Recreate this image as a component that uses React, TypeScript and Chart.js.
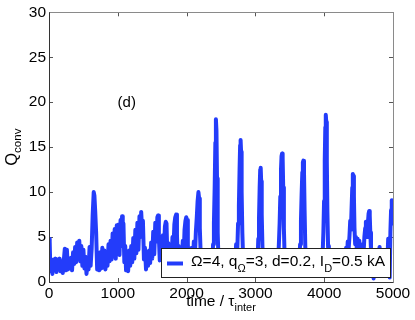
import React, { useEffect, useRef } from "react";
import { Chart, registerables } from "chart.js";

Chart.register(...registerables);

const FONT = '"Liberation Sans", Arial, Helvetica, sans-serif';
const LINE_COLOR = "rgb(35,60,250)";

const X_MIN = 0;
const X_MAX = 5000;
const Y_MIN = 0;
const Y_MAX = 30;
const X_TICK_STEP = 1000;
const Y_TICK_STEP = 5;

const LEGEND_PARTS: [string, boolean][] = [
  ["Ω=4, q", false],
  ["Ω", true],
  ["=3, d=0.2, I", false],
  ["D", true],
  ["=0.5 kA", false],
];
const Y_TITLE: [string, boolean][] = [
  ["Q", false],
  ["conv", true],
];
const X_TITLE: [string, boolean][] = [
  ["time / τ", false],
  ["inter", true],
];
const PANEL_LABEL = "(d)";
const PANEL_POS = { x: 1130, y: 19.9 };

// time / Q_conv samples
const seg1: [number, number][] = [
  [0, 4.8], [10, 4.5], [20, 1.2], [35, 2.4], [50, 0.9], [65, 2.5], [80, 1.3], [95, 2.6],
  [110, 1.1], [125, 2.5], [140, 1.4], [155, 2.6], [170, 1.2], [185, 2.3], [200, 1.0],
  [215, 2.4], [230, 3.7], [245, 1.3], [260, 3.6], [275, 1.4], [290, 2.6], [305, 1.5],
  [320, 2.7], [335, 1.3], [350, 3.3], [365, 2.0], [380, 3.9], [395, 2.2], [410, 4.4],
  [425, 2.8], [440, 4.6], [455, 2.3], [470, 4.0], [485, 1.8], [500, 3.6], [515, 1.5],
  [530, 2.8], [545, 0.9], [560, 2.3], [575, 1.4], [590, 3.9], [605, 1.8], [620, 3.7],
  [635, 7.5], [650, 10.0], [660, 9.6], [672, 7.8], [685, 5.5], [700, 1.4], [715, 2.8],
  [730, 1.3], [745, 3.3], [760, 1.5], [775, 3.8], [790, 1.6], [805, 3.5], [820, 1.4],
  [835, 3.2], [850, 1.8], [865, 4.2], [880, 2.3], [895, 4.6], [910, 2.5], [925, 5.4],
  [940, 3.0], [955, 5.9], [970, 2.6], [985, 6.3], [1000, 3.2],
];
const seg2: [number, number][] = [
  [1012, 6.4], [1025, 3.0], [1040, 6.9], [1052, 4.0], [1062, 7.3], [1072, 5.2], [1082, 6.5],
  [1095, 2.2], [1108, 4.0], [1120, 1.3], [1135, 3.1], [1150, 1.2], [1165, 3.5], [1180, 1.8],
  [1195, 4.0], [1210, 2.2], [1225, 4.9], [1240, 2.6], [1255, 5.8], [1270, 3.2], [1285, 6.6],
  [1300, 3.6], [1315, 7.3], [1330, 5.0], [1340, 7.8], [1352, 6.0], [1365, 6.8], [1380, 2.5],
  [1395, 3.8], [1410, 1.4], [1425, 3.3], [1440, 1.8], [1455, 3.5], [1470, 2.1], [1485, 4.4],
  [1500, 2.6], [1515, 5.6], [1530, 3.1], [1545, 6.6], [1560, 4.5], [1575, 7.2], [1585, 7.4],
  [1597, 5.0], [1610, 2.4], [1625, 4.2], [1640, 2.6], [1655, 5.2], [1670, 3.5], [1685, 6.2],
  [1697, 6.7], [1708, 6.5], [1720, 3.0], [1735, 4.3], [1750, 2.2], [1765, 3.9], [1780, 2.6],
  [1795, 5.0], [1808, 3.4], [1822, 6.4], [1835, 7.2], [1848, 7.5], [1860, 5.2], [1872, 2.6],
  [1885, 4.0], [1900, 1.9], [1915, 3.8], [1930, 2.4], [1945, 4.6], [1958, 3.0], [1970, 5.8],
  [1983, 6.8], [1995, 7.2],
];
const seg3: [number, number][] = [
  [2007, 6.9], [2018, 4.2], [2030, 2.0], [2045, 3.6], [2060, 1.6], [2075, 3.8], [2090, 2.0],
  [2105, 4.5], [2120, 2.8], [2135, 5.6], [2148, 7.2], [2160, 9.0], [2172, 10.0], [2182, 9.3],
  [2192, 6.0], [2205, 3.0], [2220, 1.5], [2235, 3.2], [2250, 1.2], [2265, 2.8], [2280, 1.0],
  [2295, 2.6], [2310, 1.3], [2325, 3.0], [2340, 1.6], [2355, 3.4], [2370, 2.0], [2385, 4.2],
  [2397, 6.5], [2408, 10.5], [2418, 15.5], [2426, 18.1], [2434, 16.8], [2442, 11.5],
  [2452, 5.5], [2465, 2.0], [2480, 3.2], [2495, 1.2], [2510, 2.8], [2525, 1.0], [2540, 2.6],
  [2555, 1.3], [2570, 3.0], [2585, 1.5], [2600, 2.8], [2615, 1.2], [2630, 3.1], [2645, 1.6],
  [2660, 2.9], [2675, 1.4], [2690, 3.3], [2705, 2.0], [2720, 4.2], [2735, 3.0], [2748, 6.5],
  [2760, 8.5], [2770, 12.5], [2778, 15.2], [2785, 15.8], [2792, 14.5], [2800, 10.0],
  [2810, 5.5], [2822, 2.5], [2835, 3.3], [2850, 1.2], [2865, 2.8], [2880, 1.0], [2895, 2.6],
  [2910, 1.3], [2925, 3.0], [2940, 1.5], [2955, 2.7], [2970, 1.1], [2985, 2.9], [3000, 1.6],
];
const seg4: [number, number][] = [
  [3015, 3.2], [3030, 2.0], [3042, 4.8], [3052, 7.0], [3062, 10.5], [3070, 12.5], [3077, 12.7],
  [3084, 11.2], [3092, 7.5], [3102, 4.0], [3115, 1.8], [3130, 3.0], [3145, 1.1], [3160, 2.7],
  [3175, 0.9], [3190, 2.6], [3205, 1.2], [3220, 2.9], [3235, 1.4], [3250, 3.1], [3265, 1.6],
  [3280, 2.8], [3295, 1.3], [3310, 3.0], [3325, 2.0], [3340, 4.0], [3352, 6.5], [3362, 9.5],
  [3372, 12.5], [3380, 14.0], [3388, 14.3], [3396, 13.8], [3404, 10.5], [3414, 6.0],
  [3425, 2.8], [3440, 3.2], [3455, 1.2], [3470, 2.8], [3485, 1.0], [3500, 2.7], [3515, 1.3],
  [3530, 3.0], [3545, 1.5], [3560, 2.8], [3575, 1.2], [3590, 3.0], [3605, 1.6], [3620, 3.2],
  [3635, 2.2], [3650, 4.2], [3662, 6.8], [3672, 9.8], [3682, 12.2], [3690, 13.3], [3698, 13.5],
  [3706, 12.4], [3715, 8.0], [3725, 4.0], [3738, 1.8], [3752, 3.0], [3765, 1.1], [3780, 2.7],
  [3795, 0.9], [3810, 2.6], [3825, 1.2], [3840, 2.9], [3855, 1.4], [3870, 3.1], [3885, 1.5],
  [3900, 2.8], [3915, 1.2], [3930, 3.0], [3945, 1.8], [3960, 3.6], [3975, 2.6], [3988, 5.5],
  [3998, 9.0], [4008, 13.5], [4016, 17.2], [4023, 18.6],
];
const seg5: [number, number][] = [
  [4030, 17.8], [4038, 13.5], [4046, 8.0], [4056, 4.0], [4068, 1.8], [4082, 3.0], [4097, 1.1],
  [4112, 2.7], [4127, 0.9], [4142, 2.6], [4157, 1.2], [4172, 2.9], [4187, 1.4], [4202, 3.0],
  [4217, 1.5], [4232, 2.8], [4247, 1.2], [4262, 3.0], [4277, 1.6], [4292, 3.2], [4305, 2.0],
  [4318, 3.8], [4330, 2.6], [4342, 4.5], [4355, 3.6], [4368, 5.2], [4378, 6.8], [4388, 5.8],
  [4398, 8.2], [4408, 10.5], [4416, 12.0], [4424, 11.8], [4432, 9.5], [4440, 6.0], [4450, 4.2],
  [4462, 5.0], [4474, 3.6], [4486, 4.8], [4498, 3.2], [4510, 4.6], [4522, 2.8], [4535, 4.0],
  [4548, 2.4], [4560, 4.2], [4572, 3.2], [4584, 5.0], [4596, 6.0], [4606, 6.7], [4615, 6.2],
  [4625, 5.0], [4635, 6.5], [4645, 7.6], [4654, 7.9], [4662, 7.4], [4670, 5.5], [4680, 3.6],
  [4692, 2.2], [4705, 3.2], [4718, 0.4], [4730, 2.6], [4745, 1.2], [4760, 2.8], [4775, 1.6],
  [4790, 3.0], [4805, 3.9], [4815, 2.4], [4830, 1.2], [4845, 2.8], [4860, 1.4], [4875, 2.6],
  [4890, 1.5], [4905, 3.2], [4918, 2.2], [4930, 4.8], [4942, 3.0], [4952, 0.5], [4962, 5.5],
  [4972, 8.0], [4982, 9.1], [4992, 8.6], [5000, 6.5],
];

const SAMPLES = [...seg1, ...seg2, ...seg3, ...seg4, ...seg5];

function partsWidth(ctx: CanvasRenderingContext2D, parts: [string, boolean][], big: number, small: number) {
  let w = 0;
  for (const [t, sub] of parts) {
    ctx.font = `${sub ? small : big}px ${FONT}`;
    w += ctx.measureText(t).width;
  }
  return w;
}

function drawParts(
  ctx: CanvasRenderingContext2D,
  parts: [string, boolean][],
  x: number,
  y: number,
  big: number,
  small: number,
  subShift: number
) {
  ctx.textBaseline = "alphabetic";
  ctx.textAlign = "left";
  let cx = x;
  for (const [t, sub] of parts) {
    ctx.font = `${sub ? small : big}px ${FONT}`;
    ctx.fillText(t, cx, sub ? y + subShift : y);
    cx += ctx.measureText(t).width;
  }
}

const framePlugin = {
  id: "matlabFrame",
  beforeDatasetsDraw(chart: any) {
    const { ctx, chartArea: a, scales } = chart;
    ctx.save();
    ctx.lineWidth = 1;
    ctx.strokeStyle = "#555";
    const tl = 4;
    scales.x.ticks.forEach((t: any) => {
      const px = Math.round(scales.x.getPixelForValue(t.value)) + 0.5;
      ctx.beginPath();
      ctx.moveTo(px, a.bottom);
      ctx.lineTo(px, a.bottom - tl);
      ctx.moveTo(px, a.top);
      ctx.lineTo(px, a.top + tl);
      ctx.stroke();
    });
    scales.y.ticks.forEach((t: any) => {
      const py = Math.round(scales.y.getPixelForValue(t.value)) + 0.5;
      ctx.beginPath();
      ctx.moveTo(a.left, py);
      ctx.lineTo(a.left + tl, py);
      ctx.moveTo(a.right, py);
      ctx.lineTo(a.right - tl, py);
      ctx.stroke();
    });
    ctx.restore();
  },
  afterDatasetsDraw(chart: any) {
    const { ctx, chartArea: a, scales } = chart;
    ctx.save();
    ctx.lineWidth = 1;
    ctx.strokeStyle = "#8a8a8a";
    ctx.beginPath();
    ctx.moveTo(Math.round(a.left) + 0.5, Math.round(a.top) + 0.5);
    ctx.lineTo(Math.round(a.right) + 0.5, Math.round(a.top) + 0.5);
    ctx.lineTo(Math.round(a.right) + 0.5, Math.round(a.bottom) + 0.5);
    ctx.stroke();
    ctx.strokeStyle = "#333";
    ctx.beginPath();
    ctx.moveTo(Math.round(a.left) + 0.5, Math.round(a.top) + 0.5);
    ctx.lineTo(Math.round(a.left) + 0.5, Math.round(a.bottom) + 0.5);
    ctx.lineTo(Math.round(a.right) + 0.5, Math.round(a.bottom) + 0.5);
    ctx.stroke();

    // legend
    const big = 15.5;
    const small = 11;
    const lx0 = 161;
    const lx1 = a.right - 3;
    const ly0 = a.bottom - 34;
    const ly1 = a.bottom - 5;
    ctx.fillStyle = "#fff";
    ctx.fillRect(lx0, ly0, lx1 - lx0, ly1 - ly0);
    ctx.strokeStyle = "#222";
    ctx.strokeRect(lx0 + 0.5, ly0 + 0.5, lx1 - lx0, ly1 - ly0);
    const my = (ly0 + ly1) / 2;
    ctx.strokeStyle = LINE_COLOR;
    ctx.lineWidth = 4;
    ctx.beginPath();
    ctx.moveTo(lx0 + 6, my + 1);
    ctx.lineTo(lx0 + 22, my + 1);
    ctx.stroke();
    ctx.fillStyle = "#000";
    drawParts(ctx, LEGEND_PARTS, lx0 + 30, my + 3, big, small, 6);

    // panel label
    ctx.font = `15px ${FONT}`;
    ctx.textAlign = "center";
    ctx.textBaseline = "middle";
    ctx.fillText(PANEL_LABEL, scales.x.getPixelForValue(PANEL_POS.x), scales.y.getPixelForValue(PANEL_POS.y));

    // x title
    const xw = partsWidth(ctx, X_TITLE, 15.5, 11);
    drawParts(ctx, X_TITLE, (a.left + a.right) / 2 - xw / 2, 306, 15.5, 11, 5);

    // y title (rotated)
    const yw = partsWidth(ctx, Y_TITLE, 16.5, 11.5);
    ctx.translate(17, (a.top + a.bottom) / 2);
    ctx.rotate(-Math.PI / 2);
    drawParts(ctx, Y_TITLE, -yw / 2, 0, 16.5, 11.5, 4);
    ctx.restore();
  },
};

export default function App() {
  const ref = useRef<HTMLCanvasElement | null>(null);
  useEffect(() => {
    if (!ref.current) return;
    const chart = new Chart(ref.current, {
      type: "line",
      data: {
        datasets: [
          {
            data: SAMPLES.map(([x, y]) => ({ x, y })),
            borderColor: LINE_COLOR,
            borderWidth: 4,
            pointRadius: 0,
            tension: 0,
            fill: false,
            borderJoinStyle: "round",
            borderCapStyle: "round",
          },
        ],
      },
      options: {
        animation: false,
        responsive: false,
        maintainAspectRatio: false,
        devicePixelRatio: 1,
        layout: { padding: { top: 11, right: 22, left: 0, bottom: 0 } },
        plugins: { legend: { display: false }, tooltip: { enabled: false } },
        scales: {
          x: {
            type: "linear",
            min: X_MIN,
            max: X_MAX,
            ticks: {
              stepSize: X_TICK_STEP,
              color: "#000",
              font: { family: FONT, size: 15.5 },
              padding: 2,
              maxRotation: 0,
              autoSkip: false,
              callback: (v: any) => String(v),
            },
            grid: { display: false, drawTicks: false },
            border: { display: false },
            afterFit: (s: any) => {
              s.height = 38;
            },
          },
          y: {
            type: "linear",
            min: Y_MIN,
            max: Y_MAX,
            ticks: {
              stepSize: Y_TICK_STEP,
              color: "#000",
              font: { family: FONT, size: 15.5 },
              padding: 3,
              callback: (v: any) => String(v),
            },
            grid: { display: false, drawTicks: false },
            border: { display: false },
            afterFit: (s: any) => {
              s.width = 49;
            },
          },
        },
      },
      plugins: [framePlugin],
    });
    return () => chart.destroy();
  }, []);
  return (
    <div style={{ position: "absolute", left: 0, top: 0, width: 415, height: 320, background: "#fff" }}>
      <canvas ref={ref} width={415} height={320} style={{ width: 415, height: 320 }} />
    </div>
  );
}
